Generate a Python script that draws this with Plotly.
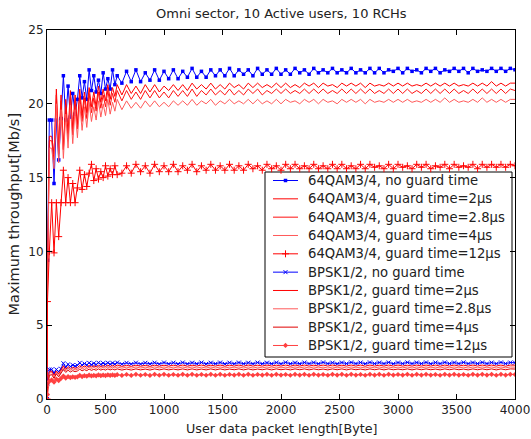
import plotly.graph_objects as go

# packet length grid [Byte]
packet_len = [0, 4] + list(range(20, 601, 20)) + list(range(640, 4001, 40))

qam_no_guard = [0, 9.4, 18.9, 18.9, 14.6, 18.9, 16.2, 19.0, 21.9, 18.9, 21.2, 19.1, 20.7, 19.3, 20.3, 21.9,
                20.4, 21.5, 20.3, 22.3, 20.9, 21.9, 20.8, 21.6, 20.7, 22.1, 21.0, 21.7, 21.0, 22.3, 21.3, 21.9] + [
    21.4, 22.2, 21.5, 22.3, 21.5, 22.1, 21.6, 22.3, 21.6, 22.2,
    21.7, 22.3, 21.7, 22.2, 21.8, 22.4, 21.8, 22.2, 21.8, 22.3,
    21.9, 22.3, 21.9, 22.4, 21.9, 22.3, 22.0, 22.3, 21.9, 22.4,
    22.0, 22.3, 22.0, 22.4, 22.0, 22.3, 22.0, 22.4, 22.1, 22.3,
    22.0, 22.4, 22.1, 22.3, 22.1, 22.4, 22.1, 22.3, 22.1, 22.4,
    22.1, 22.3, 22.1, 22.4, 22.1, 22.4, 22.1, 22.3, 22.2, 22.4,
    22.1, 22.4, 22.2, 22.3, 22.1, 22.4, 22.2, 22.4, 22.1, 22.3,
    22.2, 22.4, 22.2, 22.4, 22.1, 22.4, 22.2, 22.3, 22.2, 22.4,
    22.2, 22.4, 22.2, 22.4, 22.3]

qam_gt2 = [0, 8.0, 17.8, 17.8, 16.6, 21.0, 17.0, 20.6, 16.9, 20.3, 18.0, 20.9, 18.3, 20.6, 18.6, 21.0,
           19.2, 20.8, 19.4, 21.1, 19.8, 20.8, 19.8, 21.2, 20.1, 21.0, 20.2, 21.3, 20.3, 21.1, 20.5, 21.3] + [
    20.6, 21.3, 20.7, 21.2, 20.7, 21.3, 20.8, 21.3, 20.8, 21.2,
    20.9, 21.3, 20.9, 21.3, 20.9, 21.4, 21.0, 21.3, 21.0, 21.4,
    21.0, 21.3, 21.0, 21.4, 21.1, 21.3, 21.0, 21.4, 21.1, 21.4,
    21.1, 21.3, 21.1, 21.4, 21.1, 21.4, 21.1, 21.3, 21.1, 21.4,
    21.2, 21.4, 21.1, 21.4, 21.2, 21.3, 21.1, 21.4, 21.2, 21.4,
    21.2, 21.4, 21.1, 21.4, 21.2, 21.3, 21.2, 21.4, 21.2, 21.4,
    21.2, 21.4, 21.2, 21.3, 21.2, 21.4, 21.2, 21.4, 21.2, 21.4,
    21.2, 21.4, 21.2, 21.3, 21.2, 21.4, 21.2, 21.4, 21.2, 21.5,
    21.2, 21.4, 21.2, 21.4, 21.4]

qam_gt28 = [0, 7.5, 17.5, 17.5, 16.2, 20.6, 16.6, 20.2, 16.9, 19.9, 17.6, 20.5, 17.9, 20.2, 18.3, 20.6,
            18.8, 20.4, 19.0, 20.7, 19.4, 20.4, 19.5, 20.8, 19.7, 20.6, 19.8, 20.9, 19.9, 20.7, 20.1, 20.9] + [
    20.2, 20.9, 20.3, 20.8, 20.3, 20.9, 20.4, 20.9, 20.4, 20.8,
    20.4, 20.9, 20.5, 20.9, 20.5, 21.0, 20.5, 20.9, 20.6, 21.0,
    20.6, 20.9, 20.6, 21.0, 20.6, 20.9, 20.6, 21.0, 20.7, 21.0,
    20.6, 20.9, 20.7, 21.0, 20.7, 21.0, 20.7, 20.9, 20.7, 21.0,
    20.7, 21.0, 20.7, 21.0, 20.7, 20.9, 20.7, 21.0, 20.7, 21.0,
    20.7, 21.0, 20.7, 21.0, 20.7, 20.9, 20.7, 21.0, 20.7, 21.0,
    20.7, 21.0, 20.7, 20.9, 20.7, 21.0, 20.7, 21.0, 20.7, 21.0,
    20.7, 21.0, 20.7, 20.9, 20.7, 21.0, 20.7, 21.0, 20.7, 21.0,
    20.7, 21.0, 20.7, 21.0, 20.9]

qam_gt4 = [0, 7.0, 17.0, 17.0, 15.6, 20.0, 16.0, 19.6, 16.3, 19.3, 17.0, 19.9, 17.3, 19.6, 17.7, 20.0,
           18.2, 19.8, 18.4, 20.1, 18.8, 19.8, 18.9, 20.2, 19.1, 20.0, 19.2, 20.3, 19.3, 20.1, 19.5, 20.3] + [
    19.6, 20.2, 19.7, 20.1, 19.7, 20.2, 19.8, 20.2, 19.8, 20.1,
    19.8, 20.2, 19.9, 20.2, 19.9, 20.3, 19.9, 20.2, 20.0, 20.3,
    19.9, 20.2, 20.0, 20.3, 20.0, 20.2, 20.0, 20.3, 20.0, 20.3,
    20.0, 20.2, 20.0, 20.3, 20.0, 20.3, 20.1, 20.2, 20.0, 20.3,
    20.1, 20.3, 20.0, 20.3, 20.1, 20.2, 20.0, 20.3, 20.1, 20.3,
    20.1, 20.3, 20.0, 20.3, 20.1, 20.2, 20.1, 20.3, 20.1, 20.3,
    20.1, 20.3, 20.1, 20.2, 20.1, 20.3, 20.1, 20.3, 20.1, 20.4,
    20.1, 20.3, 20.1, 20.2, 20.1, 20.3, 20.1, 20.4, 20.1, 20.3,
    20.1, 20.3, 20.1, 20.3, 20.3]

qam_gt12 = [0, 6.6, 10.0, 13.3, 9.9, 13.3, 11.0, 13.3, 15.5, 13.3, 15.0, 13.3, 14.6, 13.3, 14.3, 15.5,
            14.2, 15.2, 14.4, 15.3, 15.9, 14.8, 15.6, 14.9, 15.4, 15.0, 15.8, 15.1, 15.6, 15.2, 15.8, 15.2] + [
    15.3, 15.8, 15.3, 15.9, 15.4, 15.8, 15.3, 15.9, 15.4, 15.8,
    15.4, 15.9, 15.4, 15.8, 15.5, 15.9, 15.4, 15.8, 15.5, 15.9,
    15.5, 15.8, 15.5, 15.9, 15.5, 15.8, 15.5, 15.9, 15.6, 15.8,
    15.5, 15.9, 15.6, 15.8, 15.5, 15.9, 15.6, 15.9, 15.6, 15.8,
    15.6, 15.9, 15.6, 15.8, 15.6, 15.9, 15.6, 15.9, 15.6, 15.8,
    15.6, 15.9, 15.6, 15.9, 15.7, 15.8, 15.6, 15.9, 15.6, 15.9,
    15.7, 15.8, 15.6, 15.9, 15.7, 15.9, 15.6, 15.8, 15.7, 15.9,
    15.6, 15.9, 15.7, 15.8, 15.7, 15.9, 15.6, 15.9, 15.7, 15.9,
    15.7, 15.9, 15.7, 15.9, 15.8]

bpsk_no_guard = [0, 1.06, 2.0, 2.0, 1.76, 2.0, 1.85, 2.05, 2.42, 2.15, 2.35, 2.2, 2.3, 2.22, 2.28, 2.45,
                 2.3, 2.4, 2.3, 2.45, 2.32, 2.42, 2.33, 2.46, 2.34, 2.43, 2.35, 2.46, 2.35, 2.44, 2.36, 2.47] + [
    2.36, 2.45, 2.37, 2.46, 2.37, 2.45, 2.38, 2.46, 2.37, 2.47,
    2.38, 2.46, 2.38, 2.47, 2.38, 2.46, 2.39, 2.47, 2.38, 2.46,
    2.39, 2.47, 2.38, 2.46, 2.39, 2.47, 2.39, 2.46, 2.39, 2.47,
    2.39, 2.46, 2.39, 2.47, 2.39, 2.48, 2.39, 2.46, 2.39, 2.47,
    2.40, 2.47, 2.39, 2.48, 2.40, 2.46, 2.39, 2.47, 2.40, 2.48,
    2.40, 2.47, 2.39, 2.48, 2.40, 2.47, 2.40, 2.48, 2.39, 2.47,
    2.40, 2.48, 2.40, 2.47, 2.40, 2.48, 2.39, 2.47, 2.40, 2.48,
    2.40, 2.47, 2.40, 2.48, 2.40, 2.47, 2.40, 2.48, 2.40, 2.47,
    2.40, 2.48, 2.40, 2.47, 2.46]

bpsk_gt2 = [0, 0.9, 1.85, 1.9, 1.6, 1.9, 1.7, 1.95, 2.25, 2.0, 2.2, 2.05, 2.15, 2.08, 2.12, 2.27,
            2.14, 2.24, 2.15, 2.28, 2.17, 2.26, 2.18, 2.29, 2.19, 2.27, 2.2, 2.3, 2.2, 2.28, 2.21, 2.3] + [
    2.21, 2.28, 2.21, 2.29, 2.22, 2.28, 2.21, 2.29, 2.22, 2.29,
    2.22, 2.29, 2.22, 2.30, 2.22, 2.29, 2.23, 2.30, 2.22, 2.29,
    2.23, 2.30, 2.22, 2.29, 2.23, 2.30, 2.22, 2.30, 2.23, 2.29,
    2.23, 2.30, 2.23, 2.29, 2.23, 2.30, 2.22, 2.30, 2.23, 2.30,
    2.23, 2.29, 2.23, 2.30, 2.23, 2.30, 2.23, 2.29, 2.23, 2.30,
    2.23, 2.30, 2.22, 2.30, 2.23, 2.29, 2.23, 2.30, 2.23, 2.30,
    2.23, 2.29, 2.23, 2.30, 2.23, 2.30, 2.23, 2.30, 2.22, 2.30,
    2.23, 2.30, 2.23, 2.29, 2.23, 2.30, 2.23, 2.30, 2.23, 2.30,
    2.23, 2.30, 2.22, 2.30, 2.29]

bpsk_gt28 = [0, 0.8, 1.75, 1.8, 1.5, 1.8, 1.6, 1.85, 2.12, 1.9, 2.08, 1.95, 2.04, 1.97, 2.01, 2.15,
             2.03, 2.12, 2.04, 2.16, 2.06, 2.14, 2.07, 2.17, 2.08, 2.15, 2.09, 2.17, 2.09, 2.16, 2.1, 2.17] + [
    2.09, 2.16, 2.09, 2.17, 2.10, 2.16, 2.09, 2.17, 2.10, 2.17,
    2.10, 2.16, 2.10, 2.17, 2.10, 2.17, 2.10, 2.16, 2.10, 2.17,
    2.10, 2.17, 2.10, 2.16, 2.11, 2.17, 2.10, 2.17, 2.10, 2.16,
    2.11, 2.17, 2.10, 2.17, 2.11, 2.16, 2.10, 2.17, 2.11, 2.17,
    2.10, 2.17, 2.11, 2.16, 2.10, 2.17, 2.11, 2.17, 2.10, 2.17,
    2.11, 2.16, 2.10, 2.17, 2.11, 2.17, 2.10, 2.17, 2.11, 2.16,
    2.11, 2.17, 2.10, 2.17, 2.11, 2.17, 2.11, 2.16, 2.10, 2.17,
    2.11, 2.17, 2.11, 2.16, 2.10, 2.17, 2.11, 2.17, 2.11, 2.17,
    2.10, 2.17, 2.11, 2.17, 2.16]

bpsk_gt4 = [0, 0.7, 1.6, 1.65, 1.4, 1.7, 1.5, 1.75, 2.0, 1.8, 1.95, 1.83, 1.92, 1.85, 1.9, 2.02,
            1.91, 1.99, 1.92, 2.03, 1.94, 2.01, 1.95, 2.04, 1.96, 2.02, 1.96, 2.04, 1.97, 2.03, 1.97, 2.04] + [
    1.96, 2.03, 1.96, 2.04, 1.97, 2.03, 1.96, 2.04, 1.97, 2.04,
    1.97, 2.03, 1.97, 2.04, 1.97, 2.04, 1.97, 2.03, 1.97, 2.04,
    1.97, 2.04, 1.97, 2.03, 1.98, 2.04, 1.97, 2.04, 1.97, 2.03,
    1.98, 2.04, 1.97, 2.04, 1.98, 2.03, 1.97, 2.04, 1.98, 2.04,
    1.97, 2.04, 1.98, 2.03, 1.97, 2.04, 1.98, 2.04, 1.97, 2.04,
    1.98, 2.03, 1.97, 2.04, 1.98, 2.04, 1.97, 2.04, 1.98, 2.03,
    1.98, 2.04, 1.97, 2.04, 1.98, 2.04, 1.98, 2.03, 1.97, 2.04,
    1.98, 2.04, 1.98, 2.03, 1.97, 2.04, 1.98, 2.04, 1.98, 2.04,
    1.97, 2.04, 1.98, 2.04, 2.03]

bpsk_gt12 = [0, 0.3, 1.2, 1.29, 1.15, 1.35, 1.25, 1.4, 1.55, 1.42, 1.52, 1.45, 1.5, 1.47, 1.5, 1.6,
             1.52, 1.58, 1.54, 1.62, 1.56, 1.6, 1.57, 1.63, 1.58, 1.62, 1.59, 1.64, 1.6, 1.63, 1.6, 1.65] + [
    1.60, 1.66, 1.60, 1.67, 1.61, 1.66, 1.60, 1.67, 1.61, 1.67,
    1.61, 1.66, 1.61, 1.67, 1.61, 1.67, 1.61, 1.66, 1.61, 1.67,
    1.61, 1.67, 1.61, 1.66, 1.62, 1.67, 1.61, 1.67, 1.61, 1.66,
    1.62, 1.67, 1.61, 1.67, 1.62, 1.66, 1.61, 1.67, 1.62, 1.67,
    1.61, 1.67, 1.62, 1.66, 1.61, 1.67, 1.62, 1.67, 1.61, 1.67,
    1.62, 1.66, 1.61, 1.67, 1.62, 1.67, 1.61, 1.67, 1.62, 1.66,
    1.62, 1.67, 1.61, 1.67, 1.62, 1.67, 1.62, 1.66, 1.61, 1.67,
    1.62, 1.67, 1.62, 1.66, 1.61, 1.67, 1.62, 1.67, 1.62, 1.67,
    1.61, 1.67, 1.62, 1.67, 1.66]

series_names = [
    "64QAM3/4, no guard time",
    "64QAM3/4, guard time=2μs",
    "64QAM3/4, guard time=2.8μs",
    "64QAM3/4, guard time=4μs",
    "64QAM3/4, guard time=12μs",
    "BPSK1/2, no guard time",
    "BPSK1/2, guard time=2μs",
    "BPSK1/2, guard time=2.8μs",
    "BPSK1/2, guard time=4μs",
    "BPSK1/2, guard time=12μs",
]
series_values = [qam_no_guard, qam_gt2, qam_gt28, qam_gt4, qam_gt12,
                 bpsk_no_guard, bpsk_gt2, bpsk_gt28, bpsk_gt4, bpsk_gt12]

styles = [
    dict(color="#0000ff", marker=dict(symbol="square", size=3.5)),
    dict(color="#ff0000", marker=None),
    dict(color="#ff1010", marker=None),
    dict(color="#ff5a5a", marker=None),
    dict(color="#ff0000", marker=dict(symbol="cross-thin-open", size=5, line=dict(width=1, color="#ff0000"))),
    dict(color="#0000ff", marker=dict(symbol="x-thin-open", size=4, line=dict(width=1, color="#0000ff"))),
    dict(color="#ff0000", marker=None),
    dict(color="#ff5a5a", marker=None),
    dict(color="#e00000", marker=None),
    dict(color="#ff4040", marker=dict(symbol="diamond", size=4)),
]

FONT = "DejaVu Sans"
TXT = "#222222"

fig = go.Figure()
for name, vals, st in zip(series_names, series_values, styles):
    n = min(len(vals), len(packet_len))
    kw = dict(x=packet_len[:n], y=vals[:n], name=name, showlegend=False,
              line=dict(color=st["color"], width=1))
    if st["marker"] is not None:
        m = dict(st["marker"])
        m.setdefault("color", st["color"])
        kw["mode"] = "lines+markers"
        kw["marker"] = m
    else:
        kw["mode"] = "lines"
    fig.add_trace(go.Scatter(**kw))

# ---- legend box (drawn on an overlay axis spanning the plot area, 0..1) ----
PLOT_L, PLOT_R, PLOT_T, PLOT_B = 47, 515, 30, 399
def px_x(p):
    return (p - PLOT_L) / (PLOT_R - PLOT_L)
def px_y(p):
    return (PLOT_B - p) / (PLOT_B - PLOT_T)

shapes = [dict(type="rect", xref="paper", yref="paper", layer="below",
               x0=px_x(265), x1=px_x(512), y0=px_y(357), y1=px_y(172),
               fillcolor="white", line=dict(color="black", width=1))]
annotations = []
for i, (name, st) in enumerate(zip(series_names, styles)):
    yc = px_y(180.5 + 18.33 * i)
    fig.add_trace(go.Scatter(x=[px_x(273), px_x(298)], y=[yc, yc], mode="lines",
                             line=dict(color=st["color"], width=1), xaxis="x2", yaxis="y2",
                             showlegend=False, hoverinfo="skip"))
    if st["marker"] is not None:
        m = dict(st["marker"])
        m.setdefault("color", st["color"])
        fig.add_trace(go.Scatter(x=[px_x(285.5)], y=[yc], mode="markers", marker=m,
                                 xaxis="x2", yaxis="y2", showlegend=False, hoverinfo="skip"))
    annotations.append(dict(text=name, xref="paper", yref="paper", x=px_x(306), y=yc,
                            xanchor="left", yanchor="middle", showarrow=False,
                            font=dict(family=FONT, size=13.2, color=TXT)))

axis_common = dict(showline=True, linecolor="black", linewidth=1, mirror="ticks",
                   ticks="inside", ticklen=5, tickcolor="black", showgrid=False,
                   zeroline=False, automargin=False,
                   tickfont=dict(family=FONT, size=12, color=TXT))

annotations += [
    dict(text="Omni sector, 10 Active users, 10 RCHs", xref="paper", yref="paper",
         x=0.5, y=1, yshift=17, xanchor="center", yanchor="middle", showarrow=False,
         font=dict(family=FONT, size=13, color=TXT)),
    dict(text="User data packet length[Byte]", xref="paper", yref="paper",
         x=0.5, y=0, yshift=-29, xanchor="center", yanchor="middle", showarrow=False,
         font=dict(family=FONT, size=12.7, color=TXT)),
    dict(text="Maximum throughput[Mb/s]", xref="paper", yref="paper",
         x=0, y=0.5, xshift=-34, xanchor="center", yanchor="middle", showarrow=False,
         textangle=-90, font=dict(family=FONT, size=14.5, color=TXT)),
]

fig.update_layout(
    width=531, height=439, autosize=False,
    margin=dict(l=PLOT_L, r=531 - PLOT_R, t=PLOT_T, b=439 - PLOT_B),
    paper_bgcolor="white", plot_bgcolor="white",
    showlegend=False,
    xaxis=dict(range=[0, 4000], tickvals=[0, 500, 1000, 1500, 2000, 2500, 3000, 3500, 4000], **axis_common),
    yaxis=dict(range=[0, 25], tickvals=[0, 5, 10, 15, 20, 25], **axis_common),
    xaxis2=dict(overlaying="x", anchor="y2", range=[0, 1], visible=False, fixedrange=True),
    yaxis2=dict(overlaying="y", anchor="x2", range=[0, 1], visible=False, fixedrange=True),
    shapes=shapes,
    annotations=annotations,
)

fig.write_html(
    "out.html",
    config={"displayModeBar": False, "responsive": False},
    post_script="document.body.style.margin='0';document.body.style.padding='0';"
                "document.body.style.overflow='hidden';document.documentElement.style.overflow='hidden';",
)
